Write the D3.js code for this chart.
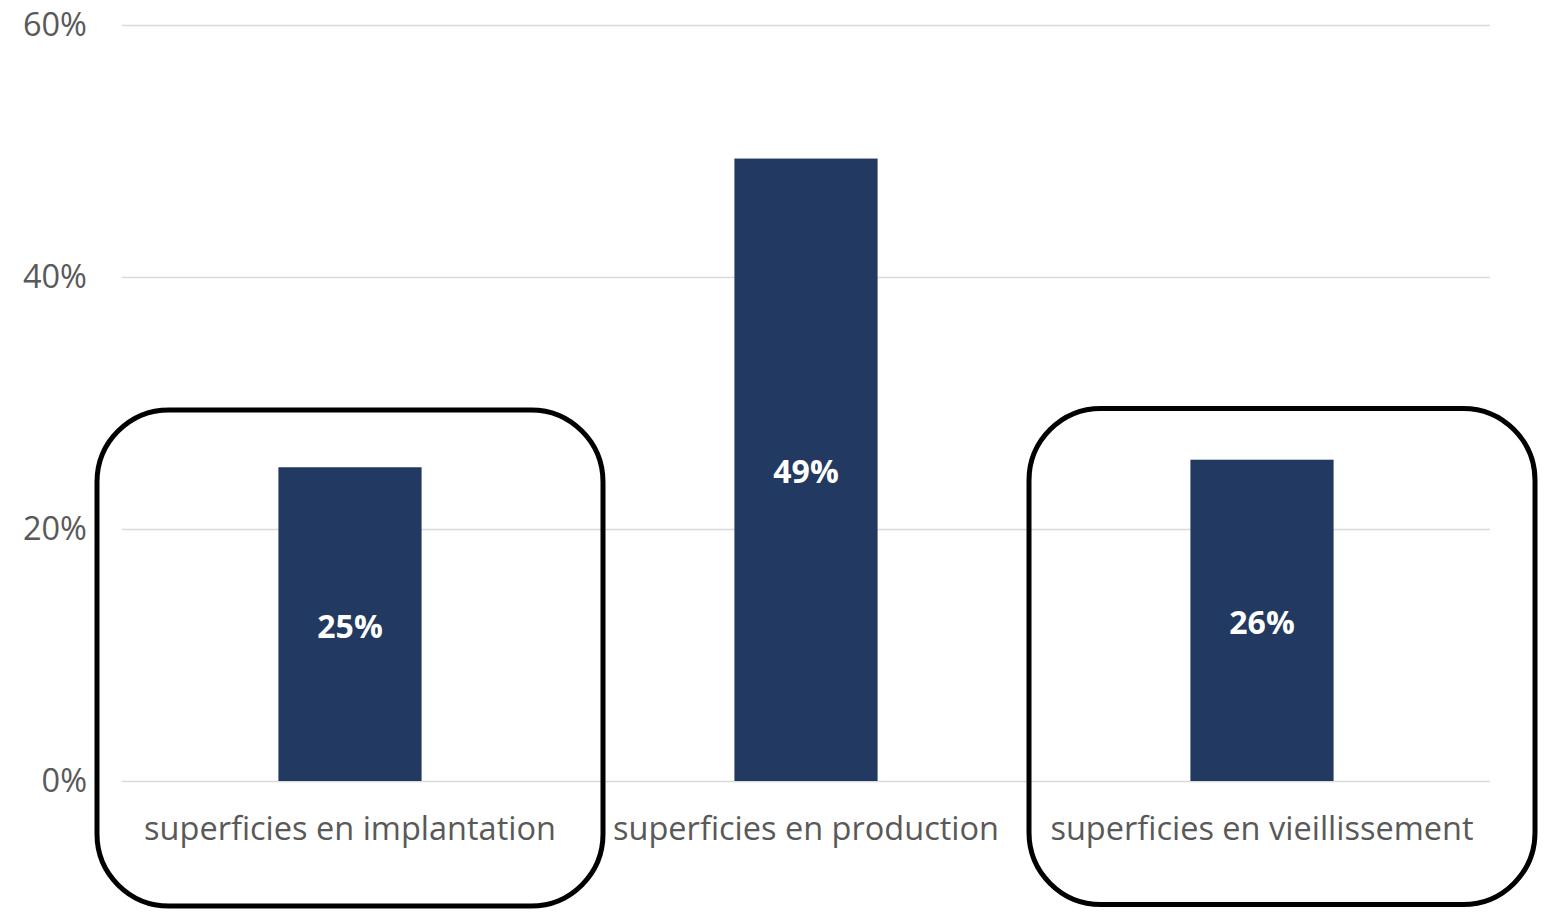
<!DOCTYPE html>
<html>
<head>
<meta charset="utf-8">
<script src="https://cdn.jsdelivr.net/npm/d3@7"></script>
<style>
  html, body { margin: 0; padding: 0; background: #fff; }
  svg { display: block; }
</style>
</head>
<body>
<svg id="chart" width="1562" height="915"></svg>
<script>
const categories = ["superficies en implantation", "superficies en production", "superficies en vieillissement"];
const values = [24.9, 49.4, 25.5];
const labels = ["25%", "49%", "26%"];
const yTicks = [0, 20, 40, 60];
const highlighted = ["superficies en implantation", "superficies en vieillissement"];

const svg = d3.select("#chart");
const margin = { left: 122, right: 72, top: 25, bottom: 134 };
const W = 1562, H = 915;
const FONT = "'Open Sans', 'Noto Sans', sans-serif";

const x = d3.scaleBand().domain(categories)
  .range([margin.left, W - margin.right])
  .paddingInner(0.686).paddingOuter(0.343);
const y = d3.scaleLinear().domain([0, 60]).range([H - margin.bottom, margin.top]);

// gridlines
svg.append("g").selectAll("line").data(yTicks).join("line")
  .attr("x1", margin.left).attr("x2", W - margin.right)
  .attr("y1", d => y(d) + 0.5).attr("y2", d => y(d) + 0.5)
  .attr("stroke", "#d9d9d9").attr("stroke-width", 1.5);

// y axis labels
const yAxis = d3.axisLeft(y).tickValues(yTicks).tickFormat(d => d + "%").tickSize(0).tickPadding(35);
const gy = svg.append("g").attr("transform", `translate(${margin.left},0)`).call(yAxis);
gy.select(".domain").remove();
gy.selectAll("text").attr("font-family", FONT).attr("font-size", 32.5).attr("fill", "#595959");

// bars
svg.append("g").selectAll("rect").data(categories).join("rect")
  .attr("x", d => x(d)).attr("width", x.bandwidth())
  .attr("y", (d, i) => y(values[i])).attr("height", (d, i) => y(0) - y(values[i]))
  .attr("fill", "#223962");

// data labels
svg.append("g").selectAll("text").data(categories).join("text")
  .attr("x", d => x(d) + x.bandwidth() / 2)
  .attr("y", (d, i) => (y(values[i]) + y(0)) / 2 + 2)
  .attr("dy", "0.36em")
  .attr("text-anchor", "middle")
  .attr("font-family", FONT).attr("font-weight", "bold").attr("font-size", 32)
  .attr("fill", "#ffffff")
  .text((d, i) => labels[i]);

// x axis labels
const xAxis = d3.axisBottom(x).tickSize(0).tickPadding(36);
const gx = svg.append("g").attr("transform", `translate(0,${y(0)})`).call(xAxis);
gx.select(".domain").remove();
gx.selectAll("text").attr("font-family", FONT).attr("font-size", 32.5).attr("fill", "#595959");

// highlight rounded boxes
const boxOffsets = [0, 20];
const boxTops = [410, 408.5];
svg.append("g").selectAll("rect").data(highlighted).join("rect")
  .attr("x", (d, i) => x(d) + x.bandwidth() / 2 + boxOffsets[i] - 253)
  .attr("y", (d, i) => boxTops[i])
  .attr("width", 506).attr("height", 496)
  .attr("rx", 72).attr("ry", 72)
  .attr("fill", "none").attr("stroke", "#000").attr("stroke-width", 5);
</script>
</body>
</html>
